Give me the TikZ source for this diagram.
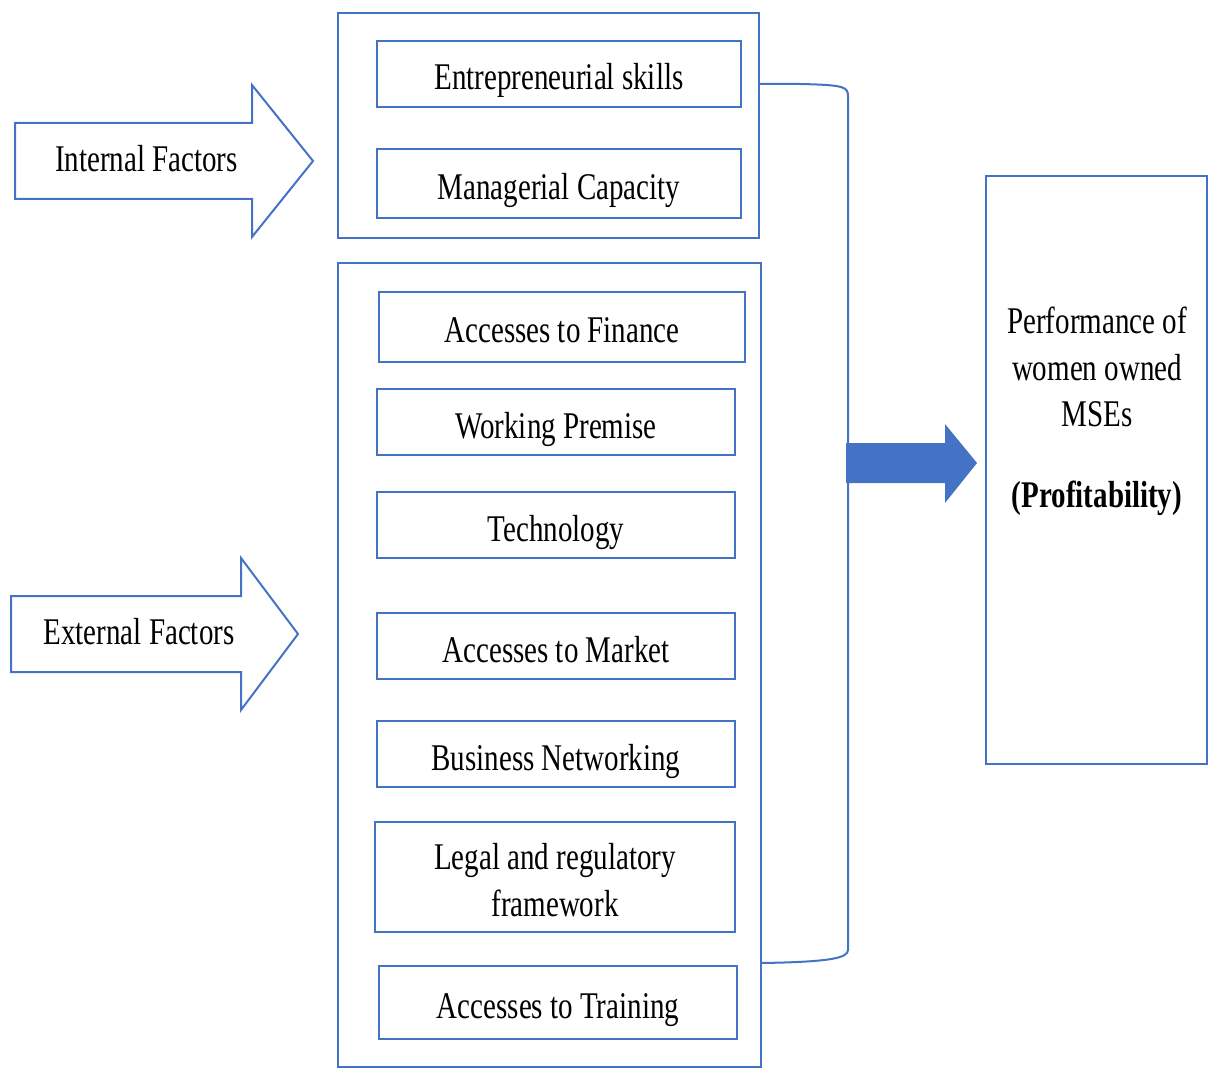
\documentclass[tikz,border=0pt]{standalone}
\usepackage{fontspec}
\setmainfont{Liberation Serif}
\usepackage{graphicx}
\definecolor{boxblue}{RGB}{68,114,196}
\newcommand\tall[1]{\scalebox{1}[1.3]{#1}}

\begin{document}
\begin{tikzpicture}[x=0.5pt,y=-0.5pt,
  box/.style={draw=boxblue, line width=1pt, rectangle, inner sep=0pt, text height=16pt, text depth=0pt, font=\fontsize{14.5}{18}\selectfont},
  txt/.style={font=\fontsize{14.5}{18}\selectfont, align=center}]
\useasboundingbox (0,0) rectangle (1209,1080);
\newcommand\factor[6]{
\node[box, minimum width=#4*0.5pt, minimum height=#5*0.5pt] (#1) at (#2,#3) {\tall{#6}};
}
\newcommand\blockarrow[6]{
\path[draw=boxblue, line width=1pt] (#2,#3-38) -- (#4,#3-38) -- (#4,#3-76) -- (#5,#3) -- (#4,#3+76) -- (#4,#3+38) -- (#2,#3+38) -- cycle;
\node[txt] (#1) at ({(#2+#4)/2+13},#3-2) {\tall{#6}};
}

\blockarrow{intf}{15}{161}{252}{313}{Internal Factors}
\blockarrow{extf}{11}{634}{241}{298}{External Factors}

% internal group
\factor{grpint}{548.5}{125.5}{421}{225}{}
\factor{ent}{559}{74}{364}{66}{Entrepreneurial skills}
\factor{man}{559}{183.5}{364}{69}{Managerial Capacity}

% external group
\factor{grpext}{549.5}{665}{423}{804}{}
\factor{fin}{562}{327}{366}{70}{Accesses to Finance}
\factor{prem}{556}{422}{358}{66}{Working Premise}
\factor{tech}{556}{525}{358}{66}{Technology}
\factor{mkt}{556}{646}{358}{66}{Accesses to Market}
\factor{net}{556}{754}{358}{66}{Business Networking}
\factor{legal}{555}{877}{360}{110}{\begin{tabular}{@{}c@{}}Legal and regulatory\\framework\end{tabular}}
\factor{train}{558}{1002.5}{358}{73}{Accesses to Training}

% outcome
\factor{perf}{1096.5}{470}{221}{588}{}
\node[txt] (perftxt) at (1097,411) {\tall{\begin{tabular}{@{}c@{}}Performance of\\women owned\\MSEs\\[13pt]\textbf{(Profitability)}\end{tabular}}};

% bracket and arrow
\coordinate (brtop) at (759,84);
\coordinate (brbot) at (761,963);
\coordinate (brmid) at (846,463);
\path[draw=boxblue, line width=1pt] (brtop) -- (800,84) .. controls (846,85) and (848,87) .. (848,97) -- (848,950) .. controls (848,958) and (830,962) .. (brbot);
\path[fill=boxblue] (brmid) -- (846,443) -- (945,443) -- (945,424) -- (977,463) -- (945,503) -- (945,483) -- (846,483) -- cycle;
\end{tikzpicture}
\end{document}
